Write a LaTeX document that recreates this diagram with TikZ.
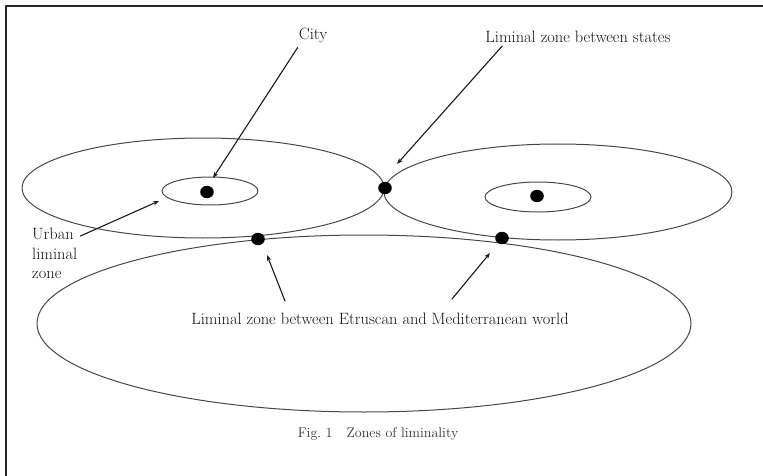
\documentclass[tikz,border=0pt]{standalone}
\usetikzlibrary{arrows.meta}
\tikzset{
  zone/.style={draw=black!72, line width=1pt},
  spot/.style={fill=black},
  pointer/.style={-{Stealth[length=6pt,width=4.5pt]}, line width=1.1pt, draw=black!90},
  label/.style={font=\fontsize{16.4}{19.5}\selectfont, text=black!92, inner sep=3pt},
  caption/.style={font=\fontsize{14}{16}\selectfont, text=black!80, inner sep=2pt}
}

\begin{document}
\begin{tikzpicture}[x=1pt, y=-1pt, line cap=round, line join=round]
  \useasboundingbox (0,0) rectangle (763,476);

  % frame of the figure (only top and left edges are visible)
  \draw[line width=2pt, black!85, line cap=butt] (6,476) -- (6,6.5) -- (763,6.5);

  % centres of the zones, measured in pixels of the page
  \coordinate (westC) at (203,188);
  \coordinate (eastC) at (558,192);
  \coordinate (seaC) at (364,323.5);
  \coordinate (westUrb) at (210,191);
  \coordinate (eastUrb) at (538,197);

  % the two states, the Etruscan/Mediterranean zone, and the urban rings
  \draw[zone] (westC) ellipse [x radius=181pt, y radius=50pt];
  \draw[zone] (eastC) ellipse [x radius=174pt, y radius=48pt];
  \draw[zone] (seaC) ellipse [x radius=327pt, y radius=88.5pt];
  \draw[zone] (westUrb) ellipse [x radius=48pt, y radius=14pt];
  \draw[zone] (eastUrb) ellipse [x radius=53pt, y radius=15pt];

  % cities and points of contact
  \coordinate (westCity) at (207,192);
  \coordinate (eastCity) at (537,196);
  \coordinate (border) at (385,188);
  \coordinate (westShore) at (258,239);
  \coordinate (eastShore) at (502,238);
  \foreach \p in {westCity,eastCity,border,westShore,eastShore}
    \fill[spot] (\p) ellipse [x radius=6.8pt, y radius=6.2pt];

  % labels
  \node[label] (city) at (313,35) {City};
  \node[label] (states) at (578,37) {Liminal zone between states};
  \node[label, align=left, anchor=north west] (urban) at (29,225) {Urban\\liminal\\zone};
  \node[label] (etr) at (380,319) {Liminal zone between Etruscan and Mediterranean world};
  \node[caption] (fig) at (378,434) {Fig.~1\quad Zones of liminality};

  % arrow tips
  \coordinate (cityTip) at (213,178);
  \coordinate (statesTip) at (397,164);
  \coordinate (urbanTip) at (159,201);
  \coordinate (westTip) at (267,255);
  \coordinate (eastTip) at (490,253);

  \draw[pointer] ([xshift=2pt, yshift=-2pt]city.south west) -- (cityTip);
  \draw[pointer] ([xshift=20pt]states.south west) -- (statesTip);
  \draw[pointer] ([yshift=-11pt]urban.north east) -- (urbanTip);
  \draw[pointer] ([xshift=-95pt, yshift=9pt]etr.north) -- (westTip);
  \draw[pointer] ([xshift=72pt, yshift=11pt]etr.north) -- (eastTip);
\end{tikzpicture}
\end{document}
